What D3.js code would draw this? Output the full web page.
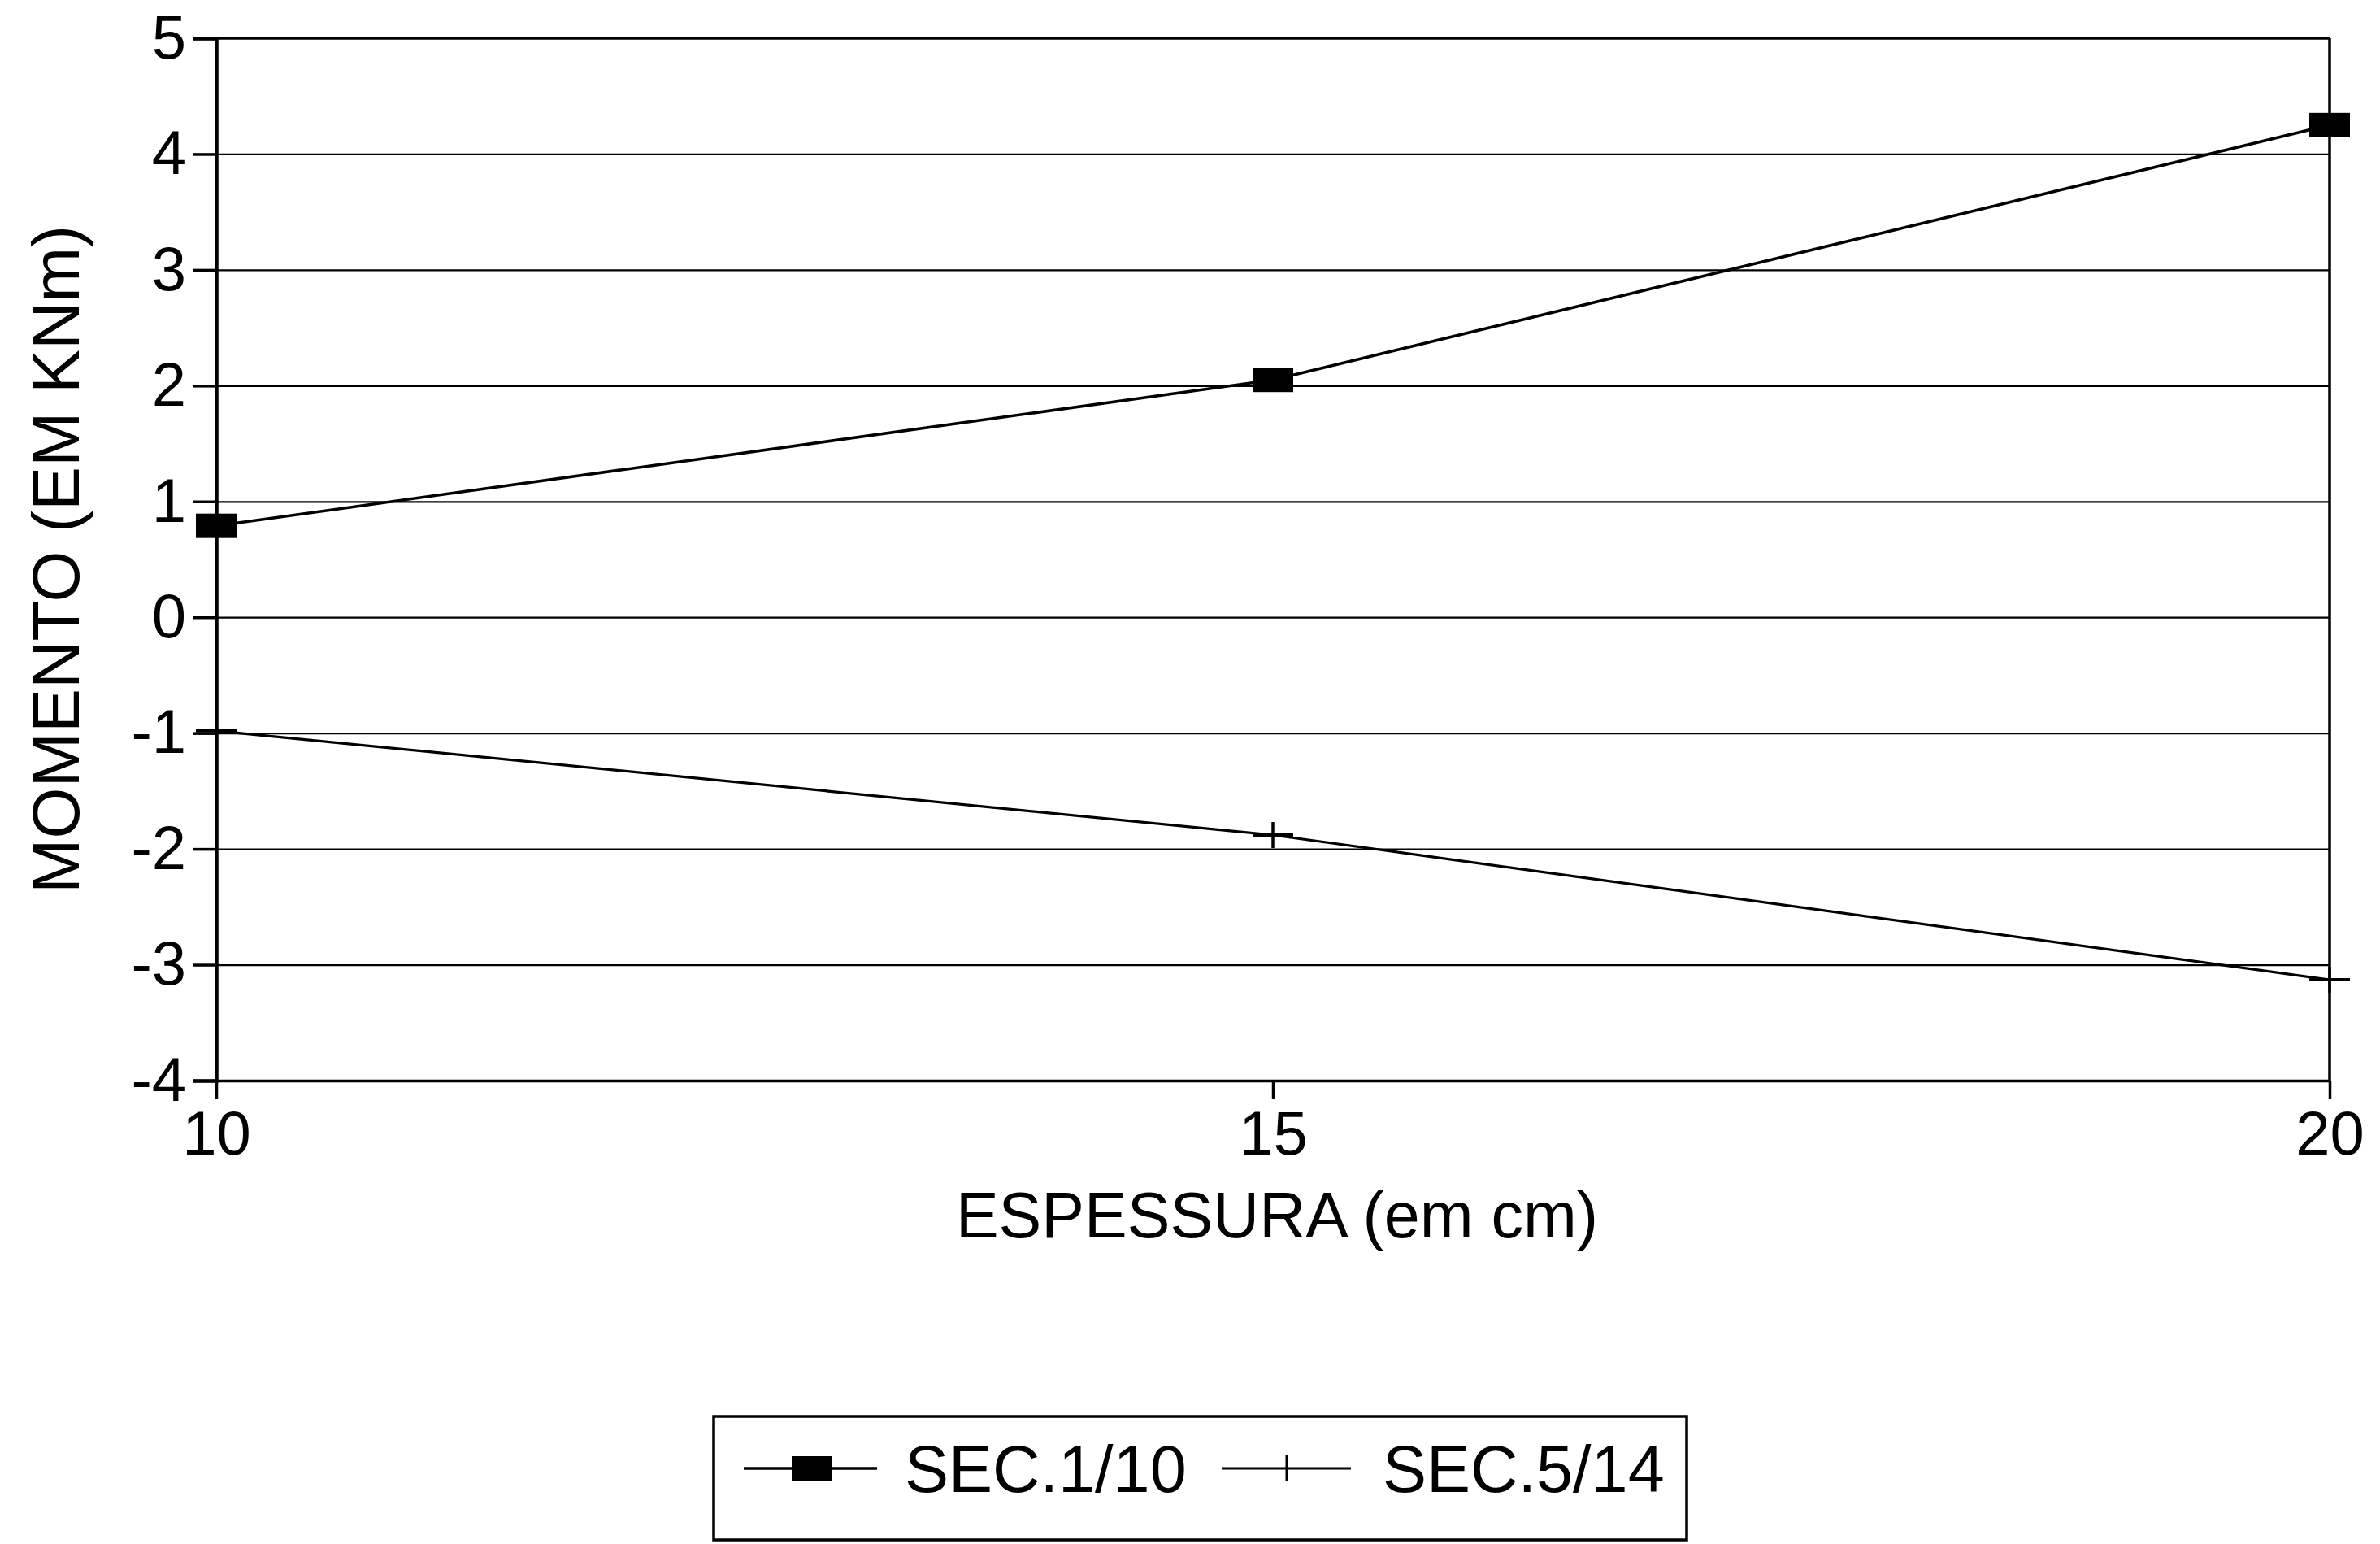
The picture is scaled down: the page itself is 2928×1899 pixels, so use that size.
<!DOCTYPE html>
<html>
<head>
<meta charset="utf-8">
<script src="https://cdn.jsdelivr.net/npm/d3@7"></script>
<style>
  html, body { margin: 0; padding: 0; background: #fff; }
  svg { display: block; }
  text { font-family: "Liberation Sans", Arial, Helvetica, sans-serif; fill: #000; }
</style>
</head>
<body>
<svg id="chart" width="2928" height="1899"></svg>
<script>
// Bending moment vs. slab thickness for two sections
const thickness = [10, 15, 20];
const sec1_10 = [0.79, 2.05, 4.25];
const sec5_14 = [-0.98, -1.88, -3.13];
const xTicks = [10, 15, 20];
const yTicks = [-4, -3, -2, -1, 0, 1, 2, 3, 4, 5];
const seriesNames = ["SEC.1/10", "SEC.5/14"];

const W = 2928, H = 1899;
const plot = { left: 266, right: 2866, top: 47, bottom: 1329 };

const svg = d3.select("#chart");

const x = d3.scaleLinear().domain([10, 20]).range([plot.left, plot.right]);
const y = d3.scaleLinear().domain([-4, 5]).range([plot.bottom, plot.top]);

// horizontal grid lines at every integer
svg.append("g")
  .attr("transform", `translate(${plot.left},0)`)
  .call(d3.axisLeft(y).tickValues(yTicks).tickSize(-(plot.right - plot.left)).tickFormat(""))
  .call(g => g.select(".domain").remove())
  .call(g => g.selectAll(".tick line").attr("stroke", "#000").attr("stroke-width", 2.2));

// right frame line
svg.append("line")
  .attr("x1", plot.right).attr("x2", plot.right)
  .attr("y1", plot.top).attr("y2", plot.bottom)
  .attr("stroke", "#000").attr("stroke-width", 3.5);

// top frame line
svg.append("line")
  .attr("x1", plot.left).attr("x2", plot.right)
  .attr("y1", plot.top).attr("y2", plot.top)
  .attr("stroke", "#000").attr("stroke-width", 3);

// y axis
const yAxis = svg.append("g")
  .attr("transform", `translate(${plot.left},0)`)
  .call(d3.axisLeft(y).tickValues(yTicks).tickSize(28).tickPadding(9).tickFormat(d => d < 0 ? "-" + Math.abs(d) : d));
yAxis.select(".domain").attr("stroke", "#000").attr("stroke-width", 4.5);
yAxis.selectAll(".tick line").attr("stroke", "#000").attr("stroke-width", 3.5);
yAxis.selectAll(".tick text")
  .attr("font-size", 76).attr("fill", "#000")
  .style("font-family", '"Liberation Sans", Arial, sans-serif');

// x axis
const xAxis = svg.append("g")
  .attr("transform", `translate(0,${plot.bottom})`)
  .call(d3.axisBottom(x).tickValues(xTicks).tickSize(23).tickPadding(14).tickSizeOuter(0));
xAxis.select(".domain").attr("stroke", "#000").attr("stroke-width", 3.5);
xAxis.selectAll(".tick line").attr("stroke", "#000").attr("stroke-width", 3.5);
xAxis.selectAll(".tick text")
  .attr("font-size", 76).attr("fill", "#000")
  .style("font-family", '"Liberation Sans", Arial, sans-serif');

// axis titles
svg.append("text")
  .attr("x", 1571).attr("y", 1522)
  .attr("text-anchor", "middle")
  .attr("font-size", 79)
  .text("ESPESSURA (em cm)");

svg.append("text")
  .attr("transform", `translate(97,${(plot.top + plot.bottom) / 2}) rotate(-90)`)
  .attr("text-anchor", "middle")
  .attr("font-size", 81)
  .text("MOMENTO (EM KNm)");

// series lines
const line = d3.line().x(d => x(d[0])).y(d => y(d[1]));
const s1 = thickness.map((t, i) => [t, sec1_10[i]]);
const s2 = thickness.map((t, i) => [t, sec5_14[i]]);

svg.append("path").datum(s1).attr("d", line)
  .attr("fill", "none").attr("stroke", "#000").attr("stroke-width", 3.6);
svg.append("path").datum(s2).attr("d", line)
  .attr("fill", "none").attr("stroke", "#000").attr("stroke-width", 3.2);

// markers
function squareMarker(g, cx, cy) {
  g.append("rect")
    .attr("x", cx - 25).attr("y", cy - 15)
    .attr("width", 50).attr("height", 30)
    .attr("fill", "#000");
}
function plusMarker(g, cx, cy) {
  g.append("line").attr("x1", cx - 25).attr("x2", cx + 25)
    .attr("y1", cy).attr("y2", cy)
    .attr("stroke", "#000").attr("stroke-width", 4);
  g.append("line").attr("x1", cx).attr("x2", cx)
    .attr("y1", cy - 16).attr("y2", cy + 16)
    .attr("stroke", "#000").attr("stroke-width", 3.5);
}

const m1 = svg.append("g");
s1.forEach(d => squareMarker(m1, x(d[0]), y(d[1])));
const m2 = svg.append("g");
s2.forEach(d => plusMarker(m2, x(d[0]), y(d[1])));

// legend
const lg = svg.append("g");
lg.append("rect")
  .attr("x", 878).attr("y", 1742)
  .attr("width", 1197).attr("height", 152)
  .attr("fill", "none").attr("stroke", "#000").attr("stroke-width", 3.5);

const ly = 1806;
lg.append("line").attr("x1", 915).attr("x2", 1079).attr("y1", ly).attr("y2", ly)
  .attr("stroke", "#000").attr("stroke-width", 3.6);
squareMarker(lg, 999, ly);
lg.append("text").attr("x", 1113).attr("y", ly + 29)
  .attr("font-size", 81).text(seriesNames[0]);

lg.append("line").attr("x1", 1503).attr("x2", 1662).attr("y1", ly).attr("y2", ly)
  .attr("stroke", "#000").attr("stroke-width", 3.2);
lg.append("line").attr("x1", 1583).attr("x2", 1583).attr("y1", ly - 16).attr("y2", ly + 16)
  .attr("stroke", "#000").attr("stroke-width", 3);
lg.append("text").attr("x", 1701).attr("y", ly + 29)
  .attr("font-size", 81).text(seriesNames[1]);
</script>
</body>
</html>
